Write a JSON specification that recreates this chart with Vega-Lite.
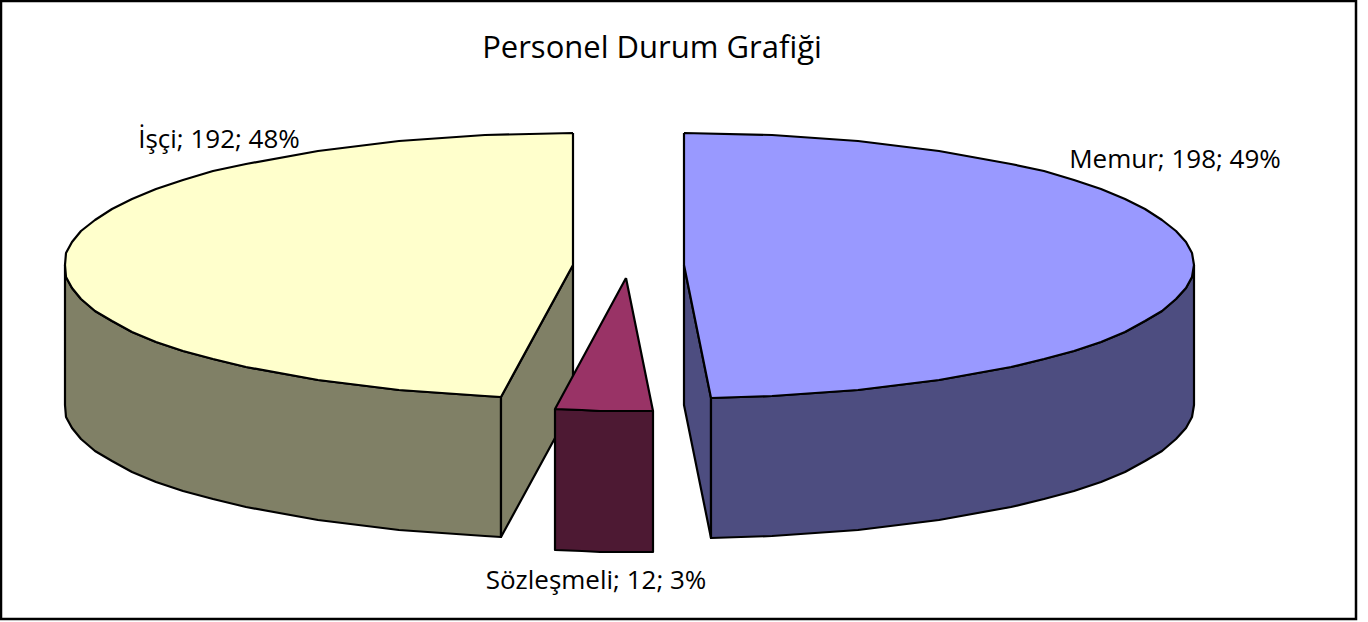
{"$schema":"https://vega.github.io/schema/vega-lite/v6.json","width":1368,"height":622,"autosize":{"type":"none"},"padding":0,"background":"white","view":{"stroke":null},
"datasets":{
"frame":[{"x":1,"x2":1356,"y":1,"y2":619}],
"labels":[
{"x":652,"y":49,"label":"Personel Durum Grafiği","role":"title"},
{"x":1175,"y":160,"label":"Memur; 198; 49%","role":"data"},
{"x":219,"y":140,"label":"İşçi; 192; 48%","role":"data"},
{"x":596,"y":581,"label":"Sözleşmeli; 12; 3%","role":"data"}],
"shapes":[
{"part":"İşçi yan","i":0,"x":65,"y":265},{"part":"İşçi yan","i":1,"x":72,"y":288},{"part":"İşçi yan","i":2,"x":95,"y":311},{"part":"İşçi yan","i":3,"x":132,"y":332},{"part":"İşçi yan","i":4,"x":183,"y":351},{"part":"İşçi yan","i":5,"x":246,"y":367},{"part":"İşçi yan","i":6,"x":318,"y":380},{"part":"İşçi yan","i":7,"x":399,"y":390},{"part":"İşçi yan","i":8,"x":485,"y":396},{"part":"İşçi yan","i":9,"x":501,"y":397},{"part":"İşçi yan","i":10,"x":501,"y":537},{"part":"İşçi yan","i":11,"x":485,"y":536},{"part":"İşçi yan","i":12,"x":399,"y":530},{"part":"İşçi yan","i":13,"x":318,"y":520},{"part":"İşçi yan","i":14,"x":246,"y":507},{"part":"İşçi yan","i":15,"x":183,"y":491},{"part":"İşçi yan","i":16,"x":132,"y":472},{"part":"İşçi yan","i":17,"x":95,"y":451},{"part":"İşçi yan","i":18,"x":72,"y":428},{"part":"İşçi yan","i":19,"x":65,"y":405},{"part":"İşçi yan","i":20,"x":65,"y":265},
{"part":"İşçi yan","i":0.5,"x":66,"y":277},{"part":"İşçi yan","i":1.5,"x":81,"y":299},{"part":"İşçi yan","i":2.5,"x":112,"y":321},{"part":"İşçi yan","i":3.5,"x":156,"y":342},{"part":"İşçi yan","i":4.5,"x":213,"y":359},{"part":"İşçi yan","i":14.5,"x":213,"y":499},{"part":"İşçi yan","i":15.5,"x":156,"y":482},{"part":"İşçi yan","i":16.5,"x":112,"y":461},{"part":"İşçi yan","i":17.5,"x":81,"y":439},{"part":"İşçi yan","i":18.5,"x":66,"y":417},
{"part":"İşçi iç","i":0,"x":573,"y":265},{"part":"İşçi iç","i":1,"x":501,"y":397},{"part":"İşçi iç","i":2,"x":501,"y":537},{"part":"İşçi iç","i":3,"x":573,"y":405},{"part":"İşçi iç","i":4,"x":573,"y":265},
{"part":"İşçi üst","i":0,"x":573,"y":133},{"part":"İşçi üst","i":1,"x":485,"y":135},{"part":"İşçi üst","i":2,"x":399,"y":141},{"part":"İşçi üst","i":3,"x":318,"y":151},{"part":"İşçi üst","i":4,"x":246,"y":164},{"part":"İşçi üst","i":5,"x":183,"y":180},{"part":"İşçi üst","i":6,"x":132,"y":199},{"part":"İşçi üst","i":7,"x":95,"y":220},{"part":"İşçi üst","i":8,"x":72,"y":242},{"part":"İşçi üst","i":9,"x":65,"y":265},{"part":"İşçi üst","i":10,"x":72,"y":288},{"part":"İşçi üst","i":11,"x":95,"y":311},{"part":"İşçi üst","i":12,"x":132,"y":332},{"part":"İşçi üst","i":13,"x":183,"y":351},{"part":"İşçi üst","i":14,"x":246,"y":367},{"part":"İşçi üst","i":15,"x":318,"y":380},{"part":"İşçi üst","i":16,"x":399,"y":390},{"part":"İşçi üst","i":17,"x":485,"y":396},{"part":"İşçi üst","i":18,"x":501,"y":397},{"part":"İşçi üst","i":19,"x":573,"y":265},{"part":"İşçi üst","i":20,"x":573,"y":133},
{"part":"İşçi üst","i":4.5,"x":213,"y":171},{"part":"İşçi üst","i":5.5,"x":156,"y":189},{"part":"İşçi üst","i":6.5,"x":112,"y":209},{"part":"İşçi üst","i":7.5,"x":81,"y":231},{"part":"İşçi üst","i":8.5,"x":66,"y":253},{"part":"İşçi üst","i":9.5,"x":66,"y":277},{"part":"İşçi üst","i":10.5,"x":81,"y":299},{"part":"İşçi üst","i":11.5,"x":112,"y":321},{"part":"İşçi üst","i":12.5,"x":156,"y":342},{"part":"İşçi üst","i":13.5,"x":213,"y":359},
{"part":"Sözleşmeli yan","i":0,"x":555,"y":409},{"part":"Sözleşmeli yan","i":1,"x":582,"y":410},{"part":"Sözleşmeli yan","i":2,"x":600,"y":411},{"part":"Sözleşmeli yan","i":3,"x":653,"y":411},{"part":"Sözleşmeli yan","i":4,"x":653,"y":552},{"part":"Sözleşmeli yan","i":5,"x":600,"y":552},{"part":"Sözleşmeli yan","i":6,"x":582,"y":551},{"part":"Sözleşmeli yan","i":7,"x":555,"y":550},{"part":"Sözleşmeli yan","i":8,"x":555,"y":409},
{"part":"Sözleşmeli üst","i":0,"x":626,"y":278},{"part":"Sözleşmeli üst","i":1,"x":555,"y":409},{"part":"Sözleşmeli üst","i":2,"x":582,"y":410},{"part":"Sözleşmeli üst","i":3,"x":600,"y":411},{"part":"Sözleşmeli üst","i":4,"x":653,"y":411},{"part":"Sözleşmeli üst","i":5,"x":626,"y":278},
{"part":"Memur iç","i":0,"x":684,"y":265},{"part":"Memur iç","i":1,"x":711,"y":398},{"part":"Memur iç","i":2,"x":711,"y":538},{"part":"Memur iç","i":3,"x":684,"y":405},{"part":"Memur iç","i":4,"x":684,"y":265},
{"part":"Memur yan","i":0,"x":1194,"y":265},{"part":"Memur yan","i":1,"x":1186,"y":288},{"part":"Memur yan","i":2,"x":1162,"y":311},{"part":"Memur yan","i":3,"x":1125,"y":332},{"part":"Memur yan","i":4,"x":1074,"y":351},{"part":"Memur yan","i":5,"x":1011,"y":367},{"part":"Memur yan","i":6,"x":939,"y":380},{"part":"Memur yan","i":7,"x":858,"y":390},{"part":"Memur yan","i":8,"x":772,"y":396},{"part":"Memur yan","i":9,"x":711,"y":398},{"part":"Memur yan","i":10,"x":711,"y":538},{"part":"Memur yan","i":11,"x":772,"y":536},{"part":"Memur yan","i":12,"x":858,"y":530},{"part":"Memur yan","i":13,"x":939,"y":520},{"part":"Memur yan","i":14,"x":1011,"y":507},{"part":"Memur yan","i":15,"x":1074,"y":491},{"part":"Memur yan","i":16,"x":1125,"y":472},{"part":"Memur yan","i":17,"x":1162,"y":451},{"part":"Memur yan","i":18,"x":1186,"y":428},{"part":"Memur yan","i":19,"x":1194,"y":405},{"part":"Memur yan","i":20,"x":1194,"y":265},
{"part":"Memur yan","i":0.5,"x":1192,"y":277},{"part":"Memur yan","i":1.5,"x":1176,"y":299},{"part":"Memur yan","i":2.5,"x":1145,"y":321},{"part":"Memur yan","i":3.5,"x":1101,"y":342},{"part":"Memur yan","i":4.5,"x":1044,"y":359},{"part":"Memur yan","i":14.5,"x":1044,"y":499},{"part":"Memur yan","i":15.5,"x":1101,"y":482},{"part":"Memur yan","i":16.5,"x":1145,"y":461},{"part":"Memur yan","i":17.5,"x":1176,"y":439},{"part":"Memur yan","i":18.5,"x":1192,"y":417},
{"part":"Memur üst","i":0,"x":684,"y":133},{"part":"Memur üst","i":1,"x":772,"y":135},{"part":"Memur üst","i":2,"x":858,"y":141},{"part":"Memur üst","i":3,"x":939,"y":151},{"part":"Memur üst","i":4,"x":1011,"y":164},{"part":"Memur üst","i":5,"x":1074,"y":180},{"part":"Memur üst","i":6,"x":1125,"y":199},{"part":"Memur üst","i":7,"x":1162,"y":220},{"part":"Memur üst","i":8,"x":1186,"y":242},{"part":"Memur üst","i":9,"x":1194,"y":265},{"part":"Memur üst","i":10,"x":1186,"y":288},{"part":"Memur üst","i":11,"x":1162,"y":311},{"part":"Memur üst","i":12,"x":1125,"y":332},{"part":"Memur üst","i":13,"x":1074,"y":351},{"part":"Memur üst","i":14,"x":1011,"y":367},{"part":"Memur üst","i":15,"x":939,"y":380},{"part":"Memur üst","i":16,"x":858,"y":390},{"part":"Memur üst","i":17,"x":772,"y":396},{"part":"Memur üst","i":18,"x":711,"y":398},{"part":"Memur üst","i":19,"x":684,"y":265},{"part":"Memur üst","i":20,"x":684,"y":133},
{"part":"Memur üst","i":4.5,"x":1044,"y":171},{"part":"Memur üst","i":5.5,"x":1101,"y":189},{"part":"Memur üst","i":6.5,"x":1145,"y":209},{"part":"Memur üst","i":7.5,"x":1176,"y":231},{"part":"Memur üst","i":8.5,"x":1192,"y":253},{"part":"Memur üst","i":9.5,"x":1192,"y":277},{"part":"Memur üst","i":10.5,"x":1176,"y":299},{"part":"Memur üst","i":11.5,"x":1145,"y":321},{"part":"Memur üst","i":12.5,"x":1101,"y":342},{"part":"Memur üst","i":13.5,"x":1044,"y":359}
]},
"layer":[
{"data":{"name":"frame"},"mark":{"type":"rect","fill":"white","stroke":"black","strokeWidth":2.5},"encoding":{"x":{"field":"x","type":"quantitative","scale":{"domain":[0,1368]},"axis":null},"x2":{"field":"x2"},"y":{"field":"y","type":"quantitative","scale":{"domain":[622,0]},"axis":null},"y2":{"field":"y2"}}},
{"data":{"name":"shapes"},"mark":{"type":"line","stroke":"black","strokeWidth":2.2,"strokeJoin":"round","interpolate":"linear"},"encoding":{"x":{"field":"x","type":"quantitative","scale":{"domain":[0,1368]},"axis":null},"y":{"field":"y","type":"quantitative","scale":{"domain":[622,0]},"axis":null},"order":{"field":"i","type":"quantitative"},"fill":{"field":"part","type":"nominal","legend":null,"scale":{"domain":["İşçi yan","İşçi iç","İşçi üst","Sözleşmeli yan","Sözleşmeli üst","Memur iç","Memur yan","Memur üst"],"range":["#808066","#808066","#ffffcc","#4d1933","#993366","#4d4d80","#4d4d80","#9999ff"]}}}},
{"data":{"name":"labels"},"transform":[{"filter":"datum.role==='data'"}],"mark":{"type":"text","font":"Open Sans","fontSize":26,"color":"black","align":"center","baseline":"middle"},"encoding":{"x":{"field":"x","type":"quantitative","scale":{"domain":[0,1368]},"axis":null},"y":{"field":"y","type":"quantitative","scale":{"domain":[622,0]},"axis":null},"text":{"field":"label"}}},
{"data":{"name":"labels"},"transform":[{"filter":"datum.role==='title'"}],"mark":{"type":"text","font":"Open Sans","fontSize":31,"color":"black","align":"center","baseline":"middle"},"encoding":{"x":{"field":"x","type":"quantitative","scale":{"domain":[0,1368]},"axis":null},"y":{"field":"y","type":"quantitative","scale":{"domain":[622,0]},"axis":null},"text":{"field":"label"}}}
]}
